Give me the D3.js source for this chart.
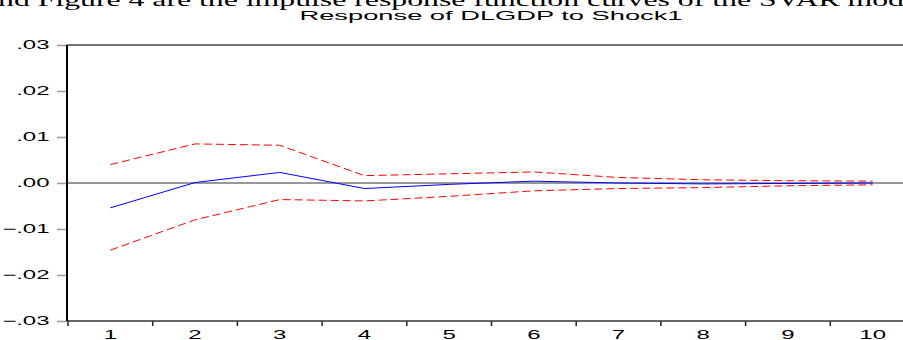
<!DOCTYPE html>
<html>
<head>
<meta charset="utf-8">
<script src="https://cdn.jsdelivr.net/npm/d3@7"></script>
<style>
  body { margin: 0; background: #fff; }
  svg { display: block; }
</style>
</head>
<body>
<div id="chart"></div>
<script>
// periods after the shock
const periods = [1, 2, 3, 4, 5, 6, 7, 8, 9, 10];
// impulse response and +/- 2 s.e. band
const response = [-0.0054, 0.0001, 0.0023, -0.0012, -0.0003, 0.0004, 0.0000, -0.0002, -0.0001, 0.0000];
const upperBand = [0.0040, 0.0085, 0.0082, 0.0016, 0.0020, 0.0024, 0.0012, 0.0007, 0.0005, 0.0004];
const lowerBand = [-0.0146, -0.0080, -0.0036, -0.0039, -0.0029, -0.0017, -0.0012, -0.0010, -0.0006, -0.0004];
const yTicks = [-0.03, -0.02, -0.01, 0, 0.01, 0.02, 0.03];

const W = 903, H = 340;
const plotLeft = 67, plotRight = 915, plotTop = 45, plotBottom = 321;
const sx = 2; // the picture is stretched horizontally

const svg = d3.select("#chart").append("svg")
  .attr("width", W)
  .attr("height", H);

// cut off line of body text above the figure
svg.append("text")
  .attr("x", -2)
  .attr("y", 5.5)
  .attr("textLength", 906)
  .attr("lengthAdjust", "spacingAndGlyphs")
  .style("font-family", "'Liberation Serif', 'Times New Roman', serif")
  .style("font-size", "19px")
  .text("nd Figure 4 are the impulse response function curves of the SVAR mod");

// title
svg.append("text")
  .attr("x", (plotLeft + plotRight) / 2)
  .attr("y", 20)
  .attr("text-anchor", "middle")
  .attr("textLength", 383)
  .attr("lengthAdjust", "spacingAndGlyphs")
  .style("font-family", "'Liberation Sans', Arial, sans-serif")
  .style("font-size", "12.5px")
  .text("Response of DLGDP to Shock1");

const x = d3.scaleBand()
  .domain(periods)
  .range([plotLeft + 1, plotRight]);

const y = d3.scaleLinear()
  .domain([-0.03, 0.03])
  .range([plotBottom, plotTop]);

const fmt = d => d3.format(".2f")(d).replace("0.", ".");

// Y axis
const yAxis = svg.append("g")
  .attr("transform", "translate(" + plotLeft + ",0)")
  .call(d3.axisLeft(y).tickValues(yTicks).tickFormat(fmt).tickSize(10).tickPadding(7));
yAxis.select(".domain").remove();
yAxis.selectAll(".tick line").attr("stroke", "#999").attr("stroke-width", 1.5);
yAxis.selectAll(".tick text")
  .attr("x", -17.5 / sx)
  .attr("transform", "scale(" + sx + ",1)")
  .attr("fill", "#000")
  .style("font-family", "'Liberation Sans', Arial, sans-serif")
  .style("font-size", "12px");

// X axis labels at band centres
const xAxis = svg.append("g")
  .attr("transform", "translate(0," + plotBottom + ")")
  .call(d3.axisBottom(x).tickSize(0).tickPadding(9));
xAxis.select(".domain").remove();
xAxis.selectAll(".tick text")
  .attr("transform", "scale(" + sx + ",1)")
  .attr("fill", "#000")
  .style("font-family", "'Liberation Sans', Arial, sans-serif")
  .style("font-size", "12px");

// X tick marks at band boundaries
svg.append("g")
  .selectAll("line")
  .data(periods)
  .join("line")
  .attr("x1", d => x(d))
  .attr("x2", d => x(d))
  .attr("y1", plotBottom)
  .attr("y2", plotBottom + 5)
  .attr("stroke", "#222")
  .attr("stroke-width", 1.5);

// frame
svg.append("line")
  .attr("x1", plotLeft).attr("x2", plotRight)
  .attr("y1", plotTop).attr("y2", plotTop)
  .attr("stroke", "#444").attr("stroke-width", 1.5);
svg.append("line")
  .attr("x1", plotLeft).attr("x2", plotRight)
  .attr("y1", plotBottom).attr("y2", plotBottom)
  .attr("stroke", "#333").attr("stroke-width", 1.5);
svg.append("line")
  .attr("x1", plotLeft).attr("x2", plotLeft)
  .attr("y1", plotTop).attr("y2", plotBottom)
  .attr("stroke", "#000").attr("stroke-width", 2);

// zero line
svg.append("line")
  .attr("x1", plotLeft).attr("x2", plotRight)
  .attr("y1", y(0)).attr("y2", y(0))
  .attr("stroke", "#333").attr("stroke-width", 1);

const line = d3.line()
  .x((d, i) => x(periods[i]) + x.bandwidth() / 2)
  .y(d => y(d));

svg.append("path")
  .datum(upperBand)
  .attr("d", line)
  .attr("fill", "none")
  .attr("stroke", "#ff0000")
  .attr("stroke-width", 1)
  .attr("stroke-dasharray", "8,4");

svg.append("path")
  .datum(lowerBand)
  .attr("d", line)
  .attr("fill", "none")
  .attr("stroke", "#ff0000")
  .attr("stroke-width", 1)
  .attr("stroke-dasharray", "8,4");

svg.append("path")
  .datum(response)
  .attr("d", line)
  .attr("fill", "none")
  .attr("stroke", "#0000ff")
  .attr("stroke-width", 1);
</script>
</body>
</html>
